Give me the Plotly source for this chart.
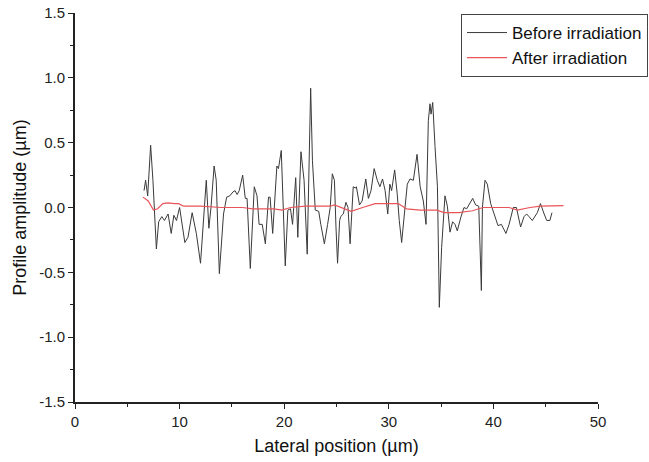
import plotly.graph_objects as go

# Before irradiation profile (lateral position µm, amplitude µm)
before_x = [6.6, 6.75, 6.95, 7.23, 7.45, 7.6, 7.78, 8.0, 8.3, 8.55, 8.9, 9.2, 9.45, 9.7, 10.0,
            10.5, 10.8, 11.2, 11.6, 12.0, 12.3, 12.55, 12.8, 13.0, 13.3, 13.5, 13.8, 14.1, 14.2,
            14.5, 14.8, 15.1, 15.3, 15.5, 15.7, 16.03, 16.28, 16.45, 16.76, 17.14, 17.4, 17.6,
            17.9, 18.2, 18.5, 18.65, 18.9, 19.3, 19.45, 19.72, 20.1, 20.35, 20.6, 20.8, 21.1,
            21.3, 21.6, 21.9, 22.2, 22.53, 22.7, 22.97, 23.3, 23.5, 23.84, 24.15, 24.4, 24.6,
            24.8, 24.95, 25.1, 25.3, 25.4, 25.65, 25.9, 26.1, 26.3, 26.6, 26.8, 26.9, 27.2,
            27.45, 27.8, 28.05, 28.3, 28.6, 28.9, 29.15, 29.4, 29.65, 29.9, 30.1, 30.27, 30.56,
            30.8, 31.0, 31.23, 31.55, 31.77, 32.03, 32.35, 32.7, 33.0, 33.3, 33.56, 33.78, 33.94,
            34.04, 34.2, 34.42, 34.65, 34.83, 35.05, 35.37, 35.6, 35.85, 36.1, 36.33, 36.55,
            36.87, 37.19, 37.44, 37.76, 38.02, 38.3, 38.6, 38.85, 38.95, 39.2, 39.42, 39.74,
            40.06, 40.44, 40.76, 41.2, 41.5, 41.9, 42.2, 42.6, 42.93, 43.18, 43.4, 43.72, 44.2,
            44.5, 44.85, 45.1, 45.4, 45.6]
before_y = [0.13, 0.21, 0.09, 0.48, 0.21, 0.0, -0.32, -0.11, -0.07, -0.10, -0.05, -0.20, -0.06, -0.10, 0.0,
            -0.27, -0.23, -0.04, -0.20, -0.43, -0.10, 0.21, -0.16, 0.0, 0.32, 0.21, -0.51, -0.13, -0.05,
            0.08, 0.09, 0.12, 0.13, 0.10, 0.13, 0.25, 0.07, 0.07, -0.47, 0.16, 0.09, -0.13,
            -0.13, -0.28, 0.08, 0.08, -0.20, 0.32, 0.30, 0.44, -0.45, -0.02, -0.01, -0.13, 0.23,
            -0.23, 0.43, 0.21, -0.36, 0.92, 0.36, -0.02, -0.03, -0.13, -0.28, -0.13, 0.0, 0.26,
            0.21, -0.15, -0.43, -0.10, -0.07, -0.05, 0.04, 0.0, -0.28, 0.16, 0.15, 0.16, 0.02,
            0.05, 0.22, 0.07, 0.13, 0.30, 0.21, 0.16, 0.22, 0.13, -0.05, 0.18, 0.13, 0.29,
            0.11, -0.10, -0.27, 0.0, 0.18, 0.22, 0.21, 0.41, 0.16, 0.05, -0.13, 0.67, 0.80,
            0.72, 0.81, 0.47, 0.16, -0.77, -0.31, 0.09, 0.01, -0.19, -0.11, -0.13, -0.18,
            -0.08, 0.0, -0.01, 0.03, 0.07, 0.02, 0.01, -0.64, 0.0, 0.21, 0.18, 0.03,
            -0.05, -0.14, -0.13, -0.20, -0.13, 0.0, 0.0, -0.15, -0.07, -0.05, -0.07, -0.10, -0.04,
            0.03, -0.05, -0.10, -0.10, -0.04]

# After irradiation profile
after_x = [6.5, 7.0, 7.5, 7.9, 8.4, 8.9, 9.5, 9.9, 10.4, 12.0, 14.0, 16.0, 17.0, 19.0, 19.8,
           20.6, 22.0, 24.4, 24.8, 25.5, 26.4, 27.5, 28.7, 30.3, 30.9, 31.7, 33.0, 34.6, 35.3,
           36.7, 38.0, 39.0, 40.3, 41.5, 42.3, 43.5, 44.5, 45.5, 46.7]
after_y = [0.08, 0.05, -0.02, -0.01, 0.03, 0.035, 0.03, 0.03, 0.01, 0.01, 0.0, 0.0, -0.01, -0.01, -0.02,
           0.0, 0.01, 0.01, 0.02, 0.0, -0.03, 0.0, 0.03, 0.03, 0.03, -0.01, -0.02, -0.02, -0.04,
           -0.04, -0.025, 0.0, 0.0, 0.0, -0.02, 0.0, 0.01, 0.01, 0.015]

x_ticks = [0, 10, 20, 30, 40, 50]
y_ticks = [-1.5, -1.0, -0.5, 0.0, 0.5, 1.0, 1.5]

FONT = "Liberation Sans, Arial, sans-serif"

fig = go.Figure()
fig.add_trace(go.Scatter(x=before_x, y=before_y, mode="lines", name="Before irradiation",
                         line=dict(color="#3a3a3a", width=1)))
fig.add_trace(go.Scatter(x=after_x, y=after_y, mode="lines", name="After irradiation",
                         line=dict(color="#e8545a", width=1.2)))

fig.update_layout(
    width=649, height=462,
    margin=dict(l=75, r=51, t=13, b=60, autoexpand=False),
    paper_bgcolor="white", plot_bgcolor="white",
    font=dict(family=FONT, color="#222"),
    showlegend=True,
    legend=dict(xref="container", yref="container",
                x=648 / 649, y=1 - 14 / 462, xanchor="right", yanchor="top",
                bgcolor="white", bordercolor="#444", borderwidth=1,
                font=dict(size=17, family=FONT, color="#111"),
                tracegroupgap=0, itemwidth=40),
)
fig.update_xaxes(range=[0, 50], tickvals=x_ticks, ticktext=[str(v) for v in x_ticks],
                 ticks="outside", ticklen=5, tickwidth=1.3, tickcolor="#222",
                 minor=dict(dtick=5, tick0=0, ticks="outside", ticklen=3, tickcolor="#222"),
                 showline=True, linecolor="#222", linewidth=1.8, mirror=False,
                 showgrid=False, zeroline=False, automargin=False,
                 tickfont=dict(size=15, family=FONT, color="#222"),
                 title=dict(text="Lateral position (µm)", font=dict(size=18, family=FONT, color="#111"),
                            standoff=10))
fig.update_yaxes(range=[-1.5, 1.5], tickvals=y_ticks, ticktext=[f"{v:.1f}" for v in y_ticks],
                 ticks="outside", ticklen=5, tickwidth=1.3, tickcolor="#222",
                 minor=dict(dtick=0.25, tick0=0, ticks="outside", ticklen=3, tickcolor="#222"),
                 showline=True, linecolor="#222", linewidth=1.8, mirror=False,
                 showgrid=False, zeroline=False, automargin=False,
                 tickfont=dict(size=15, family=FONT, color="#222"),
                 title=dict(text="Profile amplitude (µm)", font=dict(size=18, family=FONT, color="#111"),
                            standoff=8))

fig.write_html("out.html", config={"displayModeBar": False},
               post_script="document.body.style.margin='0';")
